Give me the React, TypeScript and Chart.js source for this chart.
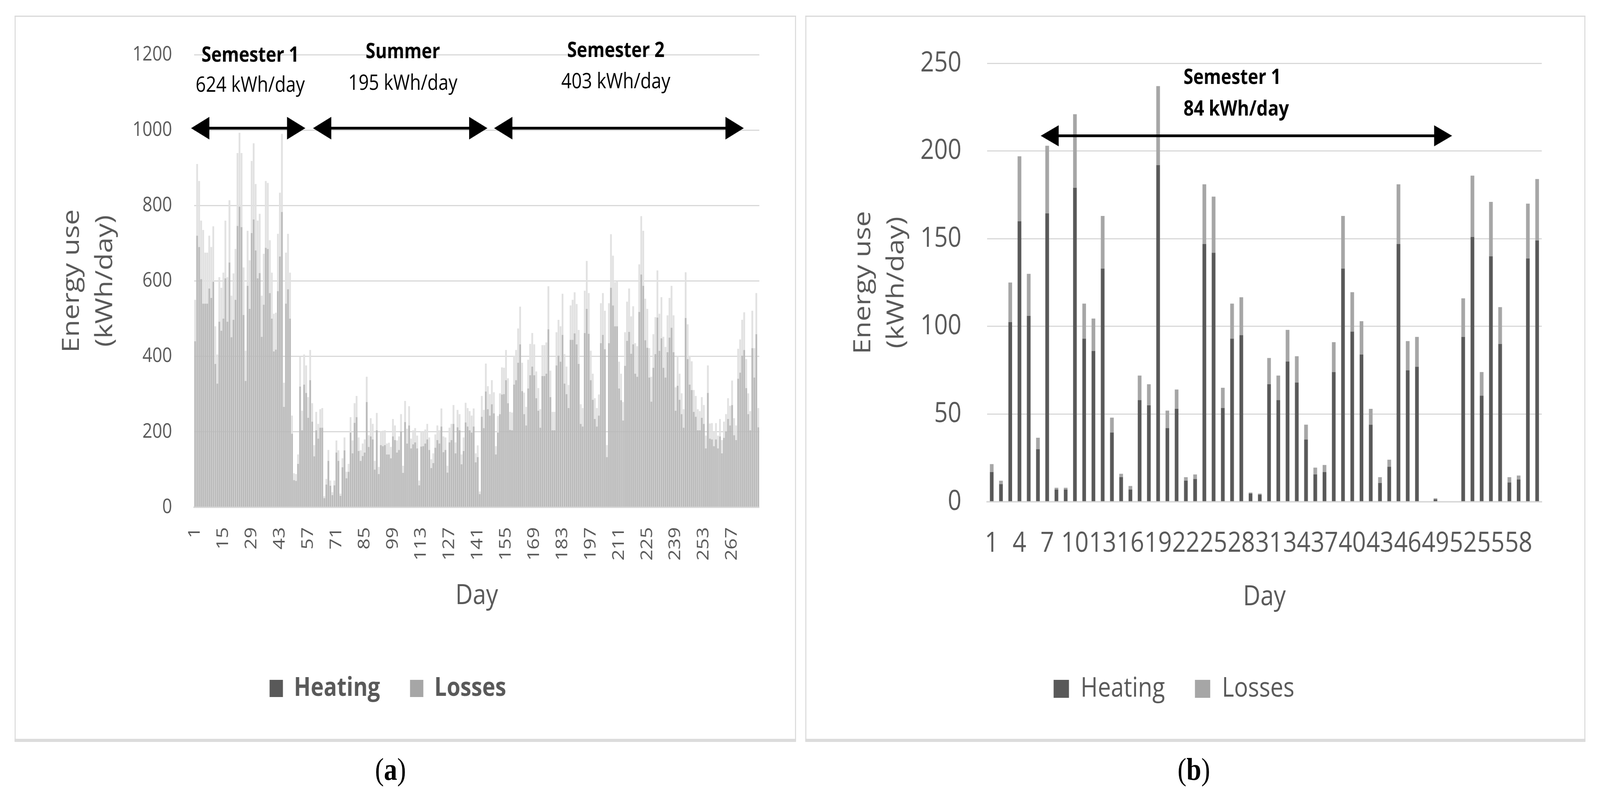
import React, { useEffect, useRef } from 'react';
import { Chart, registerables } from 'chart.js';

Chart.register(...registerables);

const FONT = "'Open Sans', 'DejaVu Sans', sans-serif";
const TEXT_GRAY = '#595959';
const GRID = '#d9d9d9';
const DESIGN_W = 4806;
const DESIGN_H = 2041;

// ---------- Panel (a): whole year, 280 days ----------
const DAYS_A: string[] = Array.from({ length: 280 }, (_, i) => String(i + 1));
const HEATING_A = [
  440, 720, 690, 605, 540, 540, 540, 580, 555, 598,
  380, 328, 492, 468, 500, 607, 492, 649, 451, 497,
  550, 746, 797, 743, 510, 335, 587, 526, 727, 763,
  681, 607, 621, 452, 537, 688, 685, 568, 500, 413,
  418, 573, 665, 783, 266, 540, 578, 500, 195, 72,
  70, 115, 320, 204, 325, 303, 237, 337, 227, 135,
  204, 182, 211, 211, 24, 60, 123, 57, 32, 58,
  145, 123, 30, 106, 151, 77, 94, 198, 143, 224,
  239, 149, 123, 136, 145, 279, 160, 188, 180, 100,
  204, 88, 165, 162, 165, 140, 140, 130, 188, 178,
  145, 152, 201, 91, 226, 169, 217, 156, 167, 172,
  156, 58, 161, 162, 169, 180, 152, 104, 117, 158,
  178, 169, 214, 146, 152, 92, 172, 178, 221, 143,
  212, 204, 114, 149, 225, 214, 204, 198, 214, 119,
  133, 35, 240, 210, 307, 260, 243, 273, 249, 140,
  198, 247, 299, 300, 337, 276, 205, 204, 325, 337,
  383, 432, 308, 247, 217, 315, 350, 373, 350, 289,
  256, 211, 348, 348, 354, 472, 292, 204, 204, 376,
  402, 386, 457, 328, 300, 263, 444, 444, 461, 432,
  380, 221, 214, 462, 526, 460, 337, 285, 234, 214,
  243, 435, 457, 419, 133, 435, 582, 535, 480, 480,
  315, 284, 230, 375, 441, 465, 407, 432, 354, 346,
  518, 617, 587, 443, 423, 344, 280, 370, 406, 503,
  415, 448, 370, 344, 411, 450, 476, 411, 256, 322,
  285, 247, 211, 502, 393, 325, 311, 253, 240, 204,
  204, 237, 221, 156, 303, 182, 180, 162, 180, 156,
  188, 143, 184, 201, 234, 217, 271, 191, 178, 341,
  357, 402, 417, 316, 247, 204, 422, 344, 459, 212,
];
const LOSSES_A = [
  110, 190, 175, 155, 195, 135, 135, 140, 135, 147,
  100, 77, 118, 114, 122, 153, 118, 165, 110, 123,
  135, 193, 196, 196, 126, 80, 146, 129, 191, 202,
  176, 153, 157, 109, 135, 177, 175, 140, 122, 100,
  98, 152, 169, 207, 64, 135, 147, 122, 48, 18,
  18, 25, 79, 52, 80, 73, 55, 80, 49, 30,
  49, 39, 49, 52, 5, 15, 29, 14, 8, 13,
  32, 28, 6, 24, 34, 17, 21, 41, 34, 52,
  56, 36, 28, 33, 35, 67, 31, 48, 41, 23,
  46, 19, 36, 41, 39, 29, 31, 30, 46, 39,
  32, 36, 46, 19, 56, 39, 51, 26, 37, 38,
  34, 13, 40, 39, 37, 41, 33, 23, 26, 35,
  39, 35, 48, 42, 33, 18, 39, 43, 50, 29,
  46, 43, 26, 36, 52, 49, 51, 45, 48, 24,
  31, 7, 55, 48, 74, 61, 57, 64, 56, 22,
  44, 55, 72, 70, 80, 66, 48, 47, 77, 80,
  91, 100, 75, 57, 49, 76, 83, 89, 82, 71,
  60, 49, 82, 82, 83, 114, 70, 49, 49, 88,
  95, 94, 109, 78, 73, 61, 91, 106, 109, 107,
  90, 52, 49, 112, 127, 108, 78, 69, 55, 49,
  56, 106, 111, 102, 32, 106, 142, 132, 117, 119,
  71, 70, 49, 89, 104, 115, 99, 101, 81, 81,
  126, 155, 146, 110, 103, 78, 66, 89, 98, 125,
  98, 109, 82, 81, 98, 105, 111, 98, 62, 78,
  69, 55, 49, 121, 92, 77, 76, 58, 55, 56,
  51, 55, 50, 34, 73, 40, 43, 39, 43, 34,
  46, 35, 43, 46, 55, 52, 65, 45, 39, 79,
  88, 95, 100, 77, 55, 51, 99, 78, 109, 51,
];
const Y_TICKS_A = { min: 0, max: 1200, step: 200 };
const LABEL_EVERY_A = 14;
// period annotations (category-index units on x, kWh/day on y)
const PERIOD_ARROWS_A = [[-2.0, 54.6], [58.4, 144.8], [148.1, 271.8]];
const PERIOD_ARROW_Y_A = 1005;
const PERIOD_NAMES_A = ['Semester 1', 'Summer', 'Semester 2'];
const PERIOD_MEANS_A = ['624 kWh/day', '195 kWh/day', '403 kWh/day'];
const PERIOD_TEXT_X_A = [27.3, 102.9, 208.4];
const PERIOD_NAME_Y_A = [1197, 1206, 1209];
const PERIOD_MEAN_Y_A = [1118, 1123, 1127];

// ---------- Panel (b): semester 1, 60 days ----------
const DAYS_B: string[] = Array.from({ length: 60 }, (_, i) => String(i + 1));
const HEATING_B = [
  17, 10, 102.5, 160, 106, 30, 164.5, 7, 7, 179,
  93, 86, 133, 39.5, 14, 7, 58, 55, 192, 42,
  53, 12, 13, 147, 142, 53.5, 93, 95, 4.7, 4,
  67, 58, 80, 68, 35.5, 15.6, 17, 74, 133, 97,
  84, 44, 10.7, 20, 147, 75, 77, 0, 1.4, 0,
  0, 94, 151, 60.5, 140, 90, 11, 12.7, 138.7, 149,
];
const LOSSES_B = [
  4.5, 2, 22.5, 37, 24, 6.5, 38.5, 1, 1, 42,
  20, 18.5, 30, 8.5, 2, 2, 14, 12, 45, 10,
  11, 2, 2.6, 34, 32, 11.5, 20, 21.6, 0.6, 0.7,
  15, 14, 18, 15, 8.5, 3.9, 4, 17, 30, 22.5,
  19, 9, 3.3, 4, 34, 16.6, 17, 0, 0.6, 0,
  0, 22, 35, 13.5, 31, 21, 3, 2.3, 31.3, 35,
];
const Y_TICKS_B = { min: 0, max: 250, step: 50 };
const LABEL_EVERY_B = 3;
const PERIOD_ARROWS_B = [[5.3, 49.8]];
const PERIOD_ARROW_Y_B = 208.7;
const PERIOD_NAMES_B = ['Semester 1'];
const PERIOD_MEANS_B = ['84 kWh/day'];
const PERIOD_TEXT_X_B = [20.75];
const PERIOD_NAME_Y_B = [241.7];
const PERIOD_MEAN_Y_B = [223.6];

const LEGEND_COLORS = ['#595959', '#a6a6a6'];

type PeriodCfg = {
  arrows: number[][];
  arrowY: number;
  names: string[];
  means: string[];
  textX: number[];
  nameY: number[];
  meanY: number[];
  align: CanvasTextAlign;
  nameFont: string;
  meanFont: string;
  head: number;
  half: number;
  lw: number;
};

function drawArrow(ctx: CanvasRenderingContext2D, x1: number, x2: number, y: number, head: number, half: number, lw: number) {
  ctx.strokeStyle = '#000';
  ctx.fillStyle = '#000';
  ctx.lineWidth = lw;
  ctx.beginPath();
  ctx.moveTo(x1 + head - 2, y);
  ctx.lineTo(x2 - head + 2, y);
  ctx.stroke();
  ctx.beginPath();
  ctx.moveTo(x1, y);
  ctx.lineTo(x1 + head, y - half);
  ctx.lineTo(x1 + head, y + half);
  ctx.closePath();
  ctx.fill();
  ctx.beginPath();
  ctx.moveTo(x2, y);
  ctx.lineTo(x2 - head, y - half);
  ctx.lineTo(x2 - head, y + half);
  ctx.closePath();
  ctx.fill();
}

function periodPlugin(cfg: PeriodCfg) {
  return {
    id: 'periods',
    afterDatasetsDraw(chart: any) {
      const { ctx, scales } = chart;
      const x = scales.x;
      const y = scales.y;
      ctx.save();
      cfg.arrows.forEach(([a, b]) => {
        drawArrow(ctx, x.getPixelForValue(a), x.getPixelForValue(b), y.getPixelForValue(cfg.arrowY), cfg.head, cfg.half, cfg.lw);
      });
      ctx.fillStyle = '#000';
      ctx.textAlign = cfg.align;
      ctx.textBaseline = 'middle';
      cfg.names.forEach((t, i) => {
        ctx.font = cfg.nameFont;
        ctx.fillText(t, x.getPixelForValue(cfg.textX[i]), y.getPixelForValue(cfg.nameY[i]));
        ctx.font = cfg.meanFont;
        ctx.fillText(cfg.means[i], x.getPixelForValue(cfg.textX[i]), y.getPixelForValue(cfg.meanY[i]));
      });
      ctx.restore();
    },
  };
}

type PanelCfg = {
  labels: string[];
  heating: number[];
  losses: number[];
  heatColor: string;
  lossColor: string;
  barPct: number;
  yTicks: { min: number; max: number; step: number };
  labelEvery: number;
  rotation: number;
  pad: { top: number; left: number; right: number; bottom: number };
  yWidth: number;
  yTickPad: number;
  yTickSize: number;
  yTitlePad: number;
  xHeight: number;
  xTickPad: number;
  xTickSize: number;
  xTitlePad: number;
  legendFont: { size: number; weight: string };
  legendBox: [number, number];
  period: PeriodCfg;
};

function buildChart(canvas: HTMLCanvasElement, c: PanelCfg) {
  return new Chart(canvas, {
    type: 'bar',
    data: {
      labels: c.labels,
      datasets: [
        { label: 'Heating', data: c.heating, backgroundColor: c.heatColor, borderWidth: 0, barPercentage: c.barPct, categoryPercentage: 1 },
        { label: 'Losses', data: c.losses, backgroundColor: c.lossColor, borderWidth: 0, barPercentage: c.barPct, categoryPercentage: 1 },
      ],
    },
    options: {
      animation: false,
      responsive: false,
      devicePixelRatio: 1,
      events: [],
      layout: { padding: c.pad },
      scales: {
        x: {
          stacked: true,
          grid: { display: false, drawTicks: false },
          border: { display: true, color: GRID, width: 4 },
          ticks: {
            autoSkip: false,
            minRotation: c.rotation,
            maxRotation: c.rotation,
            padding: c.xTickPad,
            color: TEXT_GRAY,
            font: { family: FONT, size: c.xTickSize, lineHeight: 1.2 },
            callback: (_v: any, i: number) => (i % c.labelEvery === 0 ? c.labels[i] : ''),
          },
          title: {
            display: true,
            text: 'Day',
            color: TEXT_GRAY,
            font: { family: FONT, size: 72, lineHeight: 1.2 },
            padding: { top: 0, bottom: c.xTitlePad },
          },
          afterFit: (s: any) => { s.height = c.xHeight; },
        },
        y: {
          stacked: true,
          min: c.yTicks.min,
          max: c.yTicks.max,
          ticks: {
            stepSize: c.yTicks.step,
            padding: c.yTickPad,
            color: TEXT_GRAY,
            font: { family: FONT, size: c.yTickSize },
            callback: (v: any) => String(v),
          },
          grid: { color: GRID, lineWidth: 3, drawTicks: false },
          border: { display: false },
          title: {
            display: true,
            text: ['Energy use', '(kWh/day)'],
            color: TEXT_GRAY,
            font: { family: FONT, size: 72, lineHeight: 100 / 72 },
            padding: { top: c.yTitlePad, bottom: 0 },
          },
          afterFit: (s: any) => { s.width = c.yWidth; },
        },
      },
      plugins: {
        tooltip: { enabled: false },
        legend: {
          position: 'bottom',
          labels: {
            boxWidth: c.legendBox[0],
            boxHeight: c.legendBox[1],
            padding: 90,
            color: TEXT_GRAY,
            font: { family: FONT, size: c.legendFont.size, weight: c.legendFont.weight as any },
            generateLabels: (chart: any) =>
              Chart.defaults.plugins.legend.labels.generateLabels(chart).map((l: any, i: number) => ({
                ...l,
                fillStyle: LEGEND_COLORS[i],
                strokeStyle: LEGEND_COLORS[i],
                lineWidth: 0,
              })),
          },
        },
      },
    } as any,
    plugins: [periodPlugin(c.period)],
  });
}

export default function App() {
  const refA = useRef<HTMLCanvasElement | null>(null);
  const refB = useRef<HTMLCanvasElement | null>(null);

  const vw = typeof window !== 'undefined' ? window.innerWidth || DESIGN_W : DESIGN_W;
  const vh = typeof window !== 'undefined' ? window.innerHeight || DESIGN_H : DESIGN_H;
  const sx = vw / DESIGN_W;
  const sy = vh / DESIGN_H;

  useEffect(() => {
    document.documentElement.style.overflow = 'hidden';
    document.body.style.margin = '0';
    document.body.style.overflow = 'hidden';
    const a = buildChart(refA.current as HTMLCanvasElement, {
      labels: DAYS_A,
      heating: HEATING_A,
      losses: LOSSES_A,
      heatColor: '#bababa',
      lossColor: '#e1e1e1',
      barPct: 0.88,
      yTicks: Y_TICKS_A,
      labelEvery: LABEL_EVERY_A,
      rotation: 90,
      pad: { top: 98, left: 0, right: 105, bottom: 88 },
      yWidth: 537,
      yTickPad: 66,
      yTickSize: 52,
      yTitlePad: 120,
      xHeight: 341,
      xTickPad: 51,
      xTickSize: 50,
      xTitlePad: 70,
      legendFont: { size: 66, weight: 'bold' },
      legendBox: [40, 44],
      period: {
        arrows: PERIOD_ARROWS_A,
        arrowY: PERIOD_ARROW_Y_A,
        names: PERIOD_NAMES_A,
        means: PERIOD_MEANS_A,
        textX: PERIOD_TEXT_X_A,
        nameY: PERIOD_NAME_Y_A,
        meanY: PERIOD_MEAN_Y_A,
        align: 'center',
        nameFont: `bold 53px ${FONT}`,
        meanFont: `54px ${FONT}`,
        head: 55,
        half: 29,
        lw: 7,
      },
    });
    const b = buildChart(refB.current as HTMLCanvasElement, {
      labels: DAYS_B,
      heating: HEATING_B,
      losses: LOSSES_B,
      heatColor: '#595959',
      lossColor: '#a6a6a6',
      barPct: 0.4,
      yTicks: Y_TICKS_B,
      labelEvery: LABEL_EVERY_B,
      rotation: 0,
      pad: { top: 98, left: 0, right: 129, bottom: 85 },
      yWidth: 543,
      yTickPad: 77,
      yTickSize: 72,
      yTitlePad: 121,
      xHeight: 354,
      xTickPad: 64,
      xTickSize: 72,
      xTitlePad: 66,
      legendFont: { size: 70, weight: 'normal' },
      legendBox: [46, 46],
      period: {
        arrows: PERIOD_ARROWS_B,
        arrowY: PERIOD_ARROW_Y_B,
        names: PERIOD_NAMES_B,
        means: PERIOD_MEANS_B,
        textX: PERIOD_TEXT_X_B,
        nameY: PERIOD_NAME_Y_B,
        meanY: PERIOD_MEAN_Y_B,
        align: 'left',
        nameFont: `bold 53px ${FONT}`,
        meanFont: `bold 54px ${FONT}`,
        head: 54,
        half: 27,
        lw: 7,
      },
    });
    return () => {
      a.destroy();
      b.destroy();
    };
  }, []);

  const panelBorder = (left: number, width: number): React.CSSProperties => ({
    position: 'absolute',
    left,
    top: 40,
    width,
    height: 1860,
    border: '3px solid #d9d9d9',
    borderBottom: '8px solid #dcdcdc',
    boxSizing: 'border-box',
  });
  const caption = (cx: number): React.CSSProperties => ({
    position: 'absolute',
    left: cx - 150,
    width: 300,
    top: 1928,
    textAlign: 'center',
    fontFamily: "'Liberation Serif', 'Times New Roman', serif",
    fontSize: 80,
    lineHeight: '84px',
    color: '#000',
  });

  return (
    <div style={{ position: 'fixed', left: 0, top: 0, width: vw, height: vh, overflow: 'hidden', background: '#fff' }}>
      <div
        style={{
          position: 'absolute',
          left: 0,
          top: 0,
          width: DESIGN_W,
          height: DESIGN_H,
          background: '#fff',
          transform: `scale(${sx}, ${sy})`,
          transformOrigin: '0 0',
        }}
      >
        <div style={panelBorder(44, 2347)} />
        <div style={panelBorder(2419, 2343)} />
        <canvas ref={refA} width={2343} height={1852} style={{ position: 'absolute', left: 46, top: 42, width: 2343, height: 1852 }} />
        <canvas ref={refB} width={2338} height={1852} style={{ position: 'absolute', left: 2422, top: 42, width: 2338, height: 1852 }} />
        <div style={caption(1173)}>(<b>a</b>)</div>
        <div style={caption(3586)}>(<b>b</b>)</div>
      </div>
    </div>
  );
}
